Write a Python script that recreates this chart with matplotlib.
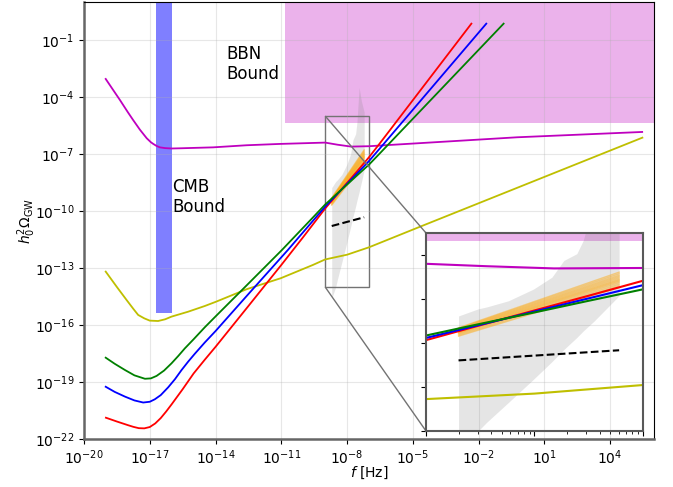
import numpy as np
import matplotlib.pyplot as plt
from matplotlib.ticker import NullLocator
from mpl_toolkits.axes_grid1.inset_locator import mark_inset

# all values are log10(f / Hz) and log10(h0^2 Omega_GW)
red_f = [-19.0, -18.5, -18.0, -17.75, -17.5, -17.25, -17.0, -16.75, -16.5, -16.25, -16.0,
         -15.5, -15.0, -14.5, -14.0, -12.5, -11.0, -10.0, -9.5, -9.0, -8.5, -8.0, -7.5,
         -7.0, -6.5, -2.33]
red_o = [-20.88, -21.08, -21.27, -21.36, -21.43, -21.44, -21.37, -21.18, -20.9, -20.55, -20.17,
         -19.38, -18.55, -17.84, -17.15, -15.0, -12.84, -11.37, -10.62, -9.87, -9.19, -8.52, -7.85,
         -7.17, -6.43, -0.14]

blue_f = [-19.01, -18.6, -18.13, -17.7, -17.3, -17.0, -16.77, -16.5, -16.16, -15.85, -15.55,
          -15.25, -14.95, -14.49, -14.0, -12.5, -10.7, -9.5, -9.0, -8.5, -8.0, -7.5, -7.0,
          -6.5, -1.65]
blue_o = [-19.25, -19.52, -19.77, -19.97, -20.08, -20.04, -19.91, -19.69, -19.28, -18.85, -18.37,
          -17.93, -17.52, -16.92, -16.32, -14.37, -12.05, -10.44, -9.77, -9.17, -8.57, -7.97, -7.37,
          -6.70, -0.14]

green_f = [-19.01, -18.6, -18.13, -17.7, -17.22, -16.95, -16.69, -16.35, -16.01, -15.7, -15.4,
           -15.0, -14.49, -14.0, -12.5, -10.97, -9.5, -9.0, -8.5, -8.0, -7.5, -7.0, -6.5, -0.86]
green_o = [-17.72, -18.04, -18.37, -18.65, -18.83, -18.81, -18.68, -18.4, -18.02, -17.63, -17.23,
           -16.75, -16.12, -15.55, -13.82, -12.05, -10.27, -9.66, -9.13, -8.61, -8.08, -7.56, -6.96,
           -0.14]

yel_f = [-19.01, -18.5, -18.06, -17.75, -17.53, -17.25, -17.0, -16.62, -16.3, -16.01, -15.25,
         -14.49, -13.99, -12.59, -11.03, -9.56, -9.0, -8.0, -7.0, -4.70, 5.47]
yel_o = [-13.19, -14.0, -14.68, -15.15, -15.47, -15.65, -15.77, -15.79, -15.7, -15.56, -15.30,
         -15.0, -14.78, -14.12, -13.54, -12.84, -12.55, -12.30, -11.91, -10.84, -6.14]

mag_f = [-19.01, -18.7, -18.36, -18.0, -17.76, -17.45, -17.14, -16.95, -16.84, -16.7, -16.54,
         -16.3, -16.0, -15.63, -14.11, -12.59, -11.07, -9.0, -8.44, -7.82, -7.0, -0.24, 5.46]
mag_o = [-3.05, -3.58, -4.16, -4.8, -5.21, -5.72, -6.17, -6.38, -6.47, -6.57, -6.65,
         -6.69, -6.71, -6.70, -6.65, -6.54, -6.47, -6.40, -6.51, -6.61, -6.59, -6.12, -5.84]

# PTA region
pta_f = [-8.70, -8.52, -8.44, -8.24, -8.01, -7.84, -7.73, -7.61, -7.55, -7.45, -7.35, -7.22]
pta_hi = [-8.77, -8.45, -8.36, -8.08, -7.55, -7.01, -6.25, -5.94, -5.33, -3.5, -4.2, -4.8]
pta_lo = [-14.6, -14.0, -13.6, -12.7, -11.65, -10.85, -10.3, -9.75, -9.45, -9.0, -8.5, -7.85]

# orange power-law fits: value at the low and at the high frequency end
fit_f = [-8.70, -7.22]
fit_lo = [-9.69, -9.64, -9.59, -9.55, -9.52, -9.49, -9.46, -9.43, -9.40, -9.37, -9.34, -9.31]
fit_hi = [-7.47, -7.40, -7.33, -7.26, -7.20, -7.15, -7.10, -7.04, -6.98, -6.92, -6.85, -6.78]

dash_f = [-8.70, -7.22]
dash_o = [-10.79, -10.33]

bbn_f, bbn_o = -10.85, -5.35
cmb_f = [-16.72, -15.99]
cmb_o = -15.38


def p(a):
    return 10.0 ** np.array(a, dtype=float)


def draw(a, lw):
    a.fill_between([p(bbn_f), 1e8], p(bbn_o), 1e3, color='m', alpha=0.3, lw=0)
    a.fill_between(p(cmb_f), p(cmb_o), 1e3, color='b', alpha=0.5, lw=0)
    a.fill_between(p(pta_f), p(pta_lo), p(pta_hi), color='gray', alpha=0.2, lw=0)
    for lo, hi in zip(fit_lo, fit_hi):
        a.plot(p(fit_f), p([lo, hi]), color='orange', alpha=0.45, lw=1.0)
    a.plot(p(dash_f), p(dash_o), 'k--', lw=1.5)
    a.plot(p(mag_f), p(mag_o), color='m', lw=lw)
    a.plot(p(yel_f), p(yel_o), color='y', lw=lw)
    a.plot(p(red_f), p(red_o), color='r', lw=lw)
    a.plot(p(blue_f), p(blue_o), color='b', lw=lw)
    a.plot(p(green_f), p(green_o), color='g', lw=lw)


fig = plt.figure(figsize=(6.73, 4.87), dpi=100)
ax = fig.add_axes([84/673, 48/487, 570/673, 437/487])
draw(ax, 1.3)
ax.set_xscale('log')
ax.set_yscale('log')
ax.set_xlim(1e-20, 1e6)
ax.set_ylim(1e-22, 1e1)
ax.set_xticks(p(np.arange(-20, 6, 3)))
ax.set_yticks(p(np.arange(-22, 0, 3)))
ax.xaxis.set_minor_locator(NullLocator())
ax.yaxis.set_minor_locator(NullLocator())
ax.grid(True, alpha=0.3)
for s in ['left', 'bottom']:
    ax.spines[s].set_linewidth(1.8)
    ax.spines[s].set_color('0.4')
ax.tick_params(labelsize=10)
ax.set_xlabel('$f$ [Hz]', labelpad=-2)
ax.set_ylabel(r'$h_0^2\Omega_{\rm GW}$', labelpad=-2.5)

ax.text(p(-13.5), p(-2.26), 'BBN\nBound', fontsize=12, va='center')
ax.text(p(-15.99), p(-9.26), 'CMB\nBound', fontsize=12, va='center')

# zoom on the PTA band
axins = ax.inset_axes([0.6, 0.0183, 0.3807, 0.4531])
axins.set_facecolor('none')
draw(axins, 1.5)
axins.set_xscale('log')
axins.set_yscale('log')
axins.set_xlim(1e-9, 1e-7)
axins.set_ylim(1e-14, 1e-5)
axins.set_yticks(p(np.arange(-14, -5, 2)))
axins.yaxis.set_minor_locator(NullLocator())
axins.tick_params(labelleft=False, labelbottom=False, which='both')
for s in axins.spines.values():
    s.set_linewidth(1.5)
    s.set_color('0.35')
mark_inset(ax, axins, loc1=2, loc2=3, fc='none', ec='0.45', lw=1)

fig.savefig('out.png', dpi=100)
